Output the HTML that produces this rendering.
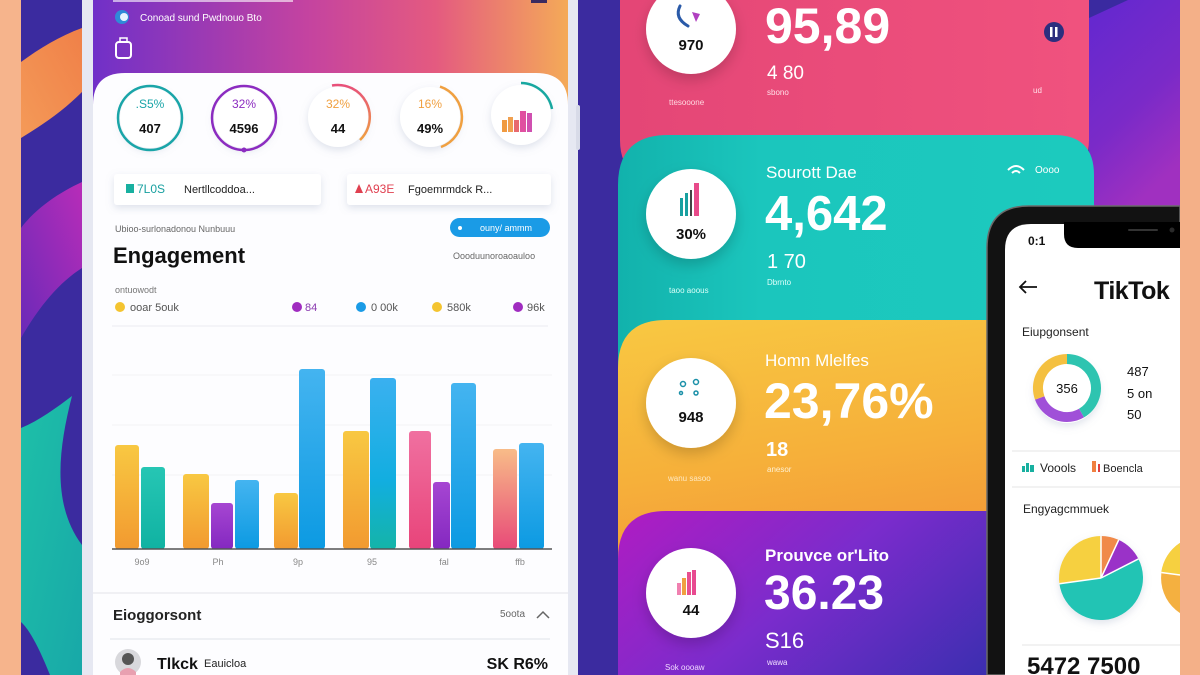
<!DOCTYPE html>
<html><head><meta charset="utf-8">
<style>
html,body{margin:0;padding:0;width:1200px;height:675px;overflow:hidden;background:#3b2b9f;}
svg{display:block;font-family:"Liberation Sans",sans-serif;}
</style></head>
<body>
<svg width="1200" height="675" viewBox="0 0 1200 675" xmlns="http://www.w3.org/2000/svg">
<defs>
 <linearGradient id="hdr" x1="0" y1="0" x2="1" y2="0">
  <stop offset="0" stop-color="#7030c8"/><stop offset="0.45" stop-color="#c443a0"/>
  <stop offset="0.72" stop-color="#e45a80"/><stop offset="1" stop-color="#f4aa58"/>
 </linearGradient>
 <linearGradient id="gY" x1="0" y1="0" x2="0" y2="1"><stop offset="0" stop-color="#f8c842"/><stop offset="1" stop-color="#f29a30"/></linearGradient>
 <linearGradient id="gT" x1="0" y1="0" x2="0" y2="1"><stop offset="0" stop-color="#26c6b4"/><stop offset="1" stop-color="#10b2a2"/></linearGradient>
 <linearGradient id="gP" x1="0" y1="0" x2="0" y2="1"><stop offset="0" stop-color="#a646d2"/><stop offset="1" stop-color="#8428c0"/></linearGradient>
 <linearGradient id="gB" x1="0" y1="0" x2="0" y2="1"><stop offset="0" stop-color="#44b4f0"/><stop offset="1" stop-color="#0c9ae2"/></linearGradient>
 <linearGradient id="gBT" x1="0" y1="0" x2="0" y2="1"><stop offset="0" stop-color="#3ab0f0"/><stop offset="0.6" stop-color="#12aee0"/><stop offset="1" stop-color="#14b4a8"/></linearGradient>
 <linearGradient id="gK" x1="0" y1="0" x2="0" y2="1"><stop offset="0" stop-color="#f070a0"/><stop offset="1" stop-color="#e8447a"/></linearGradient>
 <linearGradient id="gPe" x1="0" y1="0" x2="0" y2="1"><stop offset="0" stop-color="#f8bc88"/><stop offset="1" stop-color="#e84a78"/></linearGradient>
 <linearGradient id="cPink" x1="0" y1="0" x2="1" y2="0"><stop offset="0" stop-color="#e44676"/><stop offset="1" stop-color="#f0527e"/></linearGradient>
 <linearGradient id="cTeal" x1="0" y1="0" x2="1" y2="0"><stop offset="0" stop-color="#12b2ac"/><stop offset="0.3" stop-color="#1bc6bd"/><stop offset="1" stop-color="#1ccabe"/></linearGradient>
 <linearGradient id="cYel" x1="0" y1="0" x2="0.3" y2="1"><stop offset="0" stop-color="#f8c842"/><stop offset="0.6" stop-color="#f6b03a"/><stop offset="1" stop-color="#f39a38"/></linearGradient>
 <linearGradient id="cPur" x1="0" y1="0" x2="1" y2="0.4"><stop offset="0" stop-color="#b01cc2"/><stop offset="0.5" stop-color="#7a2ccc"/><stop offset="1" stop-color="#3c2eb0"/></linearGradient>
 <linearGradient id="bgR" x1="0" y1="0" x2="0.4" y2="1"><stop offset="0" stop-color="#6228d0"/><stop offset="0.6" stop-color="#7a2ac8"/><stop offset="1" stop-color="#a030c0"/></linearGradient>
 <linearGradient id="mag" x1="1" y1="0" x2="0" y2="1"><stop offset="0" stop-color="#b82cb8"/><stop offset="1" stop-color="#6a2ab8"/></linearGradient>
 <linearGradient id="org" x1="1" y1="0" x2="0" y2="1"><stop offset="0" stop-color="#f08048"/><stop offset="1" stop-color="#f49a58"/></linearGradient>
 <linearGradient id="tl" x1="0" y1="0" x2="1" y2="1"><stop offset="0" stop-color="#1ec0a8"/><stop offset="1" stop-color="#18a8a8"/></linearGradient>
 <linearGradient id="arcPO" x1="0" y1="0" x2="0" y2="1"><stop offset="0" stop-color="#e8507a"/><stop offset="1" stop-color="#f0a040"/></linearGradient>
 <filter id="sh" x="-30%" y="-30%" width="160%" height="160%"><feDropShadow dx="0" dy="3" stdDeviation="4" flood-color="#8090b0" flood-opacity="0.25"/></filter>
 <filter id="sh2" x="-30%" y="-30%" width="160%" height="160%"><feDropShadow dx="0" dy="6" stdDeviation="7" flood-color="#000" flood-opacity="0.18"/></filter>
</defs>

<!-- background -->
<rect x="0" y="0" width="1200" height="675" fill="#3b2b9f"/>
<path d="M21,62 C40,48 60,36 82,28 L82,92 C64,110 44,124 21,138 Z" fill="url(#org)"/>
<path d="M82,182 C60,192 36,208 21,228 L21,338 C40,305 60,282 82,268 Z" fill="url(#mag)"/>
<path d="M21,428 C40,420 56,408 72,396 C58,450 52,505 82,545 L82,675 L50,675 C40,650 30,630 21,622 Z" fill="url(#tl)"/>
<rect x="0" y="0" width="21" height="675" fill="#f6b48c"/>

<!-- right bg -->
<rect x="1089" y="0" width="91" height="215" fill="url(#bgR)"/>
<polygon points="1089,0 1128,0 1089,18" fill="#3a2aa0"/>

<!-- LEFT PHONE -->
<rect x="82" y="0" width="496" height="675" fill="#e6e8f2"/>
<rect x="576" y="105" width="4" height="45" rx="2" fill="#d8dbe8"/>
<rect x="93" y="0" width="475" height="675" fill="url(#hdr)"/>
<rect x="113" y="0" width="180" height="2" fill="#ffffff" opacity="0.6"/>
<rect x="531" y="0" width="16" height="3" fill="#3a2a60"/>
<circle cx="122" cy="17" r="7" fill="#2f8ad8"/><circle cx="124" cy="17" r="4" fill="#e6f4ff"/>
<text x="140" y="21" font-size="10" fill="#ffffff">Conoad sund Pwdnouo Bto</text>
<rect x="116" y="42" width="15" height="16" rx="3" fill="none" stroke="#fff" stroke-width="2"/>
<rect x="120" y="38" width="7" height="4" fill="none" stroke="#fff" stroke-width="1.5"/>

<path d="M93,105 Q93,73 125,73 L536,73 Q568,73 568,105 L568,675 L93,675 Z" fill="#fdfdff"/>

<!-- circles row -->
<g filter="url(#sh)">
<circle cx="150" cy="118" r="30" fill="#fff"/>
<circle cx="244" cy="118" r="30" fill="#fff"/>
<circle cx="338" cy="117" r="30" fill="#fff"/>
<circle cx="430" cy="117" r="30" fill="#fff"/>
<circle cx="521" cy="115" r="30" fill="#fff"/>
</g>
<circle cx="150" cy="118" r="32" fill="none" stroke="#1aa5a8" stroke-width="2.5"/>
<circle cx="244" cy="118" r="32" fill="none" stroke="#8c2cc0" stroke-width="2.5"/>
<circle cx="244" cy="150" r="2.5" fill="#8c2cc0"/>
<path d="M332,85.5 A32,32 0 0 1 360,140" fill="none" stroke="url(#arcPO)" stroke-width="2.5"/>
<path d="M440,86.6 A32,32 0 0 1 441,147" fill="none" stroke="#f0a040" stroke-width="2.5"/>
<path d="M521,83 A32,32 0 0 1 552,109" fill="none" stroke="#18a8a0" stroke-width="2.5"/>
<text x="150" y="108" font-size="12" fill="#1aa5a8" text-anchor="middle">.S5%</text>
<text x="150" y="133" font-size="13" font-weight="bold" fill="#111" text-anchor="middle">407</text>
<text x="244" y="108" font-size="12" fill="#8c2cc0" text-anchor="middle">32%</text>
<text x="244" y="133" font-size="13" font-weight="bold" fill="#111" text-anchor="middle">4596</text>
<text x="338" y="108" font-size="12" fill="#f0a040" text-anchor="middle">32%</text>
<text x="338" y="133" font-size="13" font-weight="bold" fill="#111" text-anchor="middle">44</text>
<text x="430" y="108" font-size="12" fill="#f0a040" text-anchor="middle">16%</text>
<text x="430" y="133" font-size="13" font-weight="bold" fill="#111" text-anchor="middle">49%</text>
<rect x="502" y="120" width="5" height="12" fill="#f09a40"/>
<rect x="508" y="117" width="5" height="15" fill="#f0a050"/>
<rect x="514" y="120" width="5" height="12" fill="#e86a70"/>
<rect x="520" y="111" width="6" height="21" fill="#e050a0"/>
<rect x="527" y="113" width="5" height="19" fill="#d050b0"/>

<!-- boxes -->
<g filter="url(#sh)">
<rect x="114" y="174" width="207" height="31" rx="3" fill="#fff"/>
<rect x="347" y="174" width="204" height="31" rx="3" fill="#fff"/>
</g>
<rect x="126" y="184" width="8" height="9" fill="#18b0a0"/>
<text x="137" y="193" font-size="12" fill="#18a0a0">7L0S</text>
<text x="184" y="193" font-size="11" fill="#222">Nertllcoddoa...</text>
<polygon points="355,193 359,184 363,193" fill="#e04050"/>
<text x="365" y="193" font-size="12" fill="#e04050">A93E</text>
<text x="408" y="193" font-size="11" fill="#222">Fgoemrmdck R...</text>

<text x="115" y="232" font-size="9" fill="#666">Ubioo-surlonadonou Nunbuuu</text>
<rect x="450" y="218" width="100" height="19" rx="9.5" fill="#1a9be6"/>
<circle cx="460" cy="228" r="2" fill="#fff"/>
<text x="480" y="231" font-size="9" fill="#fff">ouny/ ammm</text>
<text x="113" y="263" font-size="22" font-weight="bold" fill="#111">Engagement</text>
<text x="453" y="259" font-size="9" fill="#666">Oooduunoroaoauloo</text>
<text x="115" y="293" font-size="9" fill="#777">ontuowodt</text>

<circle cx="120" cy="307" r="5" fill="#f4c430"/><text x="130" y="311" font-size="11" fill="#555">ooar 5ouk</text>
<circle cx="297" cy="307" r="5" fill="#a02cc0"/><text x="305" y="311" font-size="11" fill="#8a3ab0">84</text>
<circle cx="361" cy="307" r="5" fill="#1a9be6"/><text x="371" y="311" font-size="11" fill="#555">0 00k</text>
<circle cx="437" cy="307" r="5" fill="#f4c430"/><text x="447" y="311" font-size="11" fill="#555">580k</text>
<circle cx="518" cy="307" r="5" fill="#a02cc0"/><text x="527" y="311" font-size="11" fill="#555">96k</text>
<line x1="112" y1="326" x2="548" y2="326" stroke="#ececf0" stroke-width="1"/>
<line x1="112" y1="375" x2="552" y2="375" stroke="#f2f2f5" stroke-width="1"/>
<line x1="112" y1="425" x2="552" y2="425" stroke="#f2f2f5" stroke-width="1"/>
<line x1="112" y1="475" x2="552" y2="475" stroke="#f2f2f5" stroke-width="1"/>

<!-- bars -->
<rect x="115" y="445" width="24" height="104" rx="3" fill="url(#gY)"/>
<rect x="141" y="467" width="24" height="82" rx="3" fill="url(#gT)"/>
<rect x="183" y="474" width="26" height="75" rx="3" fill="url(#gY)"/>
<rect x="211" y="503" width="22" height="46" rx="3" fill="url(#gP)"/>
<rect x="235" y="480" width="24" height="69" rx="3" fill="url(#gB)"/>
<rect x="274" y="493" width="24" height="56" rx="3" fill="url(#gY)"/>
<rect x="299" y="369" width="26" height="180" rx="3" fill="url(#gB)"/>
<rect x="343" y="431" width="26" height="118" rx="3" fill="url(#gY)"/>
<rect x="370" y="378" width="26" height="171" rx="3" fill="url(#gBT)"/>
<rect x="409" y="431" width="22" height="118" rx="3" fill="url(#gK)"/>
<rect x="433" y="482" width="17" height="67" rx="3" fill="url(#gP)"/>
<rect x="451" y="383" width="25" height="166" rx="3" fill="url(#gB)"/>
<rect x="493" y="449" width="24" height="100" rx="3" fill="url(#gPe)"/>
<rect x="519" y="443" width="25" height="106" rx="3" fill="url(#gB)"/>
<line x1="112" y1="549" x2="552" y2="549" stroke="#555" stroke-width="1.5"/>
<g font-size="9" fill="#888" text-anchor="middle">
<text x="142" y="565">9o9</text><text x="218" y="565">Ph</text><text x="298" y="565">9p</text>
<text x="372" y="565">95</text><text x="444" y="565">fal</text><text x="520" y="565">ffb</text>
</g>

<line x1="93" y1="593" x2="568" y2="593" stroke="#ebebf0" stroke-width="1.5"/>
<text x="113" y="620" font-size="15" font-weight="bold" fill="#222">Eioggorsont</text>
<text x="500" y="617" font-size="10" fill="#666">5oota</text>
<polyline points="537,618 543,612 549,618" fill="none" stroke="#666" stroke-width="1.5"/>
<line x1="110" y1="639" x2="550" y2="639" stroke="#eef0f4" stroke-width="2"/>
<circle cx="128" cy="662" r="13" fill="#d8d8dc"/>
<circle cx="128" cy="659" r="6" fill="#555"/>
<path d="M120,672 Q128,664 136,672 L136,675 L120,675 Z" fill="#e8a0b0"/>
<text x="157" y="669" font-size="16" font-weight="bold" fill="#111">Tlkck</text>
<text x="204" y="667" font-size="11" fill="#222">Eauicloa</text>
<text x="548" y="669" font-size="16" font-weight="bold" fill="#111" text-anchor="end">SK R6%</text>

<!-- CARDS -->
<path d="M620,0 L1089,0 L1089,140 Q1089,180 1049,180 L660,180 Q620,180 620,140 Z" fill="url(#cPink)"/>
<path d="M618,185 Q618,135 668,135 L1054,135 Q1094,135 1094,175 L1094,380 L618,380 Z" fill="url(#cTeal)"/>
<path d="M618,368 Q618,320 666,320 L1100,320 L1100,570 L618,570 Z" fill="url(#cYel)"/>
<path d="M618,559 Q618,511 666,511 L1100,511 L1100,675 L618,675 Z" fill="url(#cPur)"/>

<g filter="url(#sh2)">
<circle cx="691" cy="29" r="45" fill="#fff"/>
<circle cx="691" cy="214" r="45" fill="#fff"/>
<circle cx="691" cy="403" r="45" fill="#fff"/>
<circle cx="691" cy="593" r="45" fill="#fff"/>
</g>
<!-- pink card content -->
<path d="M680,6 Q674,18 688,26" fill="none" stroke="#2a5aa8" stroke-width="3" stroke-linecap="round"/>
<path d="M692,12 L700,14 L696,22 Z" fill="#b040c0"/>
<text x="691" y="50" font-size="15" font-weight="bold" fill="#111" text-anchor="middle">970</text>
<text x="669" y="105" font-size="8" fill="#ffd8e0">ttesooone</text>
<text x="765" y="43" font-size="50" font-weight="bold" fill="#fff">95,89</text>
<text x="767" y="79" font-size="19" fill="#fff">4 80</text>
<text x="767" y="95" font-size="8" fill="#ffe0e8">sbono</text>
<text x="1033" y="93" font-size="8" fill="#ffe0e8">ud</text>
<circle cx="1054" cy="32" r="10" fill="#2c2e7e"/>
<rect x="1050" y="27" width="2.5" height="10" fill="#fff"/><rect x="1055" y="27" width="2.5" height="10" fill="#fff"/>

<!-- teal card content -->
<rect x="680" y="198" width="3" height="18" fill="#18a0a0"/>
<rect x="685" y="193" width="3" height="23" fill="#18a0a0"/>
<rect x="690" y="190" width="2" height="26" fill="#444"/>
<rect x="694" y="183" width="5" height="33" fill="#e84a8a"/>
<text x="691" y="239" font-size="15" font-weight="bold" fill="#111" text-anchor="middle">30%</text>
<text x="669" y="293" font-size="8" fill="#d8fff8">taoo aoous</text>
<text x="766" y="178" font-size="17" fill="#fff">Sourott Dae</text>
<text x="765" y="230" font-size="49" font-weight="bold" fill="#fff">4,642</text>
<text x="767" y="268" font-size="20" fill="#fff">1 70</text>
<text x="767" y="285" font-size="8" fill="#e0fffa">Dbrnto</text>
<path d="M1008,170 Q1016,162 1024,170" fill="none" stroke="#fff" stroke-width="2"/>
<path d="M1012,173 Q1016,169 1020,173" fill="none" stroke="#fff" stroke-width="2"/>
<text x="1035" y="173" font-size="10" fill="#fff">Oooo</text>

<!-- yellow card content -->
<g fill="none" stroke="#1a90a8" stroke-width="1.5">
<circle cx="683" cy="384" r="2.5"/><circle cx="696" cy="382" r="2.5"/>
<circle cx="681" cy="393" r="1.5"/><circle cx="696" cy="393" r="2"/>
</g>
<text x="691" y="422" font-size="15" font-weight="bold" fill="#111" text-anchor="middle">948</text>
<text x="668" y="481" font-size="8" fill="#ffe8c0">wanu sasoo</text>
<text x="765" y="366" font-size="17" fill="#fff">Homn Mlelfes</text>
<text x="764" y="418" font-size="50" font-weight="bold" fill="#fff">23,76%</text>
<text x="766" y="456" font-size="20" font-weight="bold" fill="#fff">18</text>
<text x="767" y="472" font-size="8" fill="#fff0d0">anesor</text>

<!-- purple card content -->
<rect x="677" y="583" width="4" height="12" fill="#f080b0"/>
<rect x="682" y="578" width="4" height="17" fill="#f0a040"/>
<rect x="687" y="572" width="4" height="23" fill="#e85090"/>
<rect x="692" y="570" width="4" height="25" fill="#e84a90"/>
<text x="691" y="615" font-size="15" font-weight="bold" fill="#111" text-anchor="middle">44</text>
<text x="665" y="670" font-size="8" fill="#f0d8ff">Sok oooaw</text>
<text x="765" y="561" font-size="17" font-weight="bold" fill="#fff">Prouvce or'Lito</text>
<text x="764" y="609" font-size="48" font-weight="bold" fill="#fff">36.23</text>
<text x="765" y="648" font-size="22" fill="#fff">S16</text>
<text x="767" y="665" font-size="8" fill="#f0e0ff">wawa</text>

<!-- RIGHT PHONE -->
<path d="M987,248 Q987,206 1029,206 L1180,206 L1180,675 L987,675 Z" fill="#121212" stroke="#6a6a6a" stroke-width="1.5"/>
<path d="M1005,250 Q1005,224 1031,224 L1180,224 L1180,675 L1005,675 Z" fill="#ffffff"/>
<path d="M1064,222 L1180,222 L1180,248 L1078,248 Q1064,248 1064,234 Z" fill="#000"/>
<rect x="1128" y="229" width="30" height="2" rx="1" fill="#333"/>
<circle cx="1172" cy="230" r="2.5" fill="#2a2a2a"/>
<text x="1028" y="245" font-size="12" font-weight="bold" fill="#111">0:1</text>
<line x1="1020" y1="287" x2="1037" y2="287" stroke="#111" stroke-width="1.8"/>
<polyline points="1026,281 1020,287 1026,293" fill="none" stroke="#111" stroke-width="1.8"/>
<text x="1094" y="299" font-size="25" font-weight="bold" fill="#111" letter-spacing="-0.5">TikTok</text>
<text x="1022" y="336" font-size="12" fill="#222">Eiupgonsent</text>
<circle cx="1067" cy="390" r="33" fill="#fff" filter="url(#sh)"/>
<path d="M1067,359 A29,29 0 0 1 1081.5,413.1" fill="none" stroke="#2ec4b0" stroke-width="10"/>
<path d="M1081.5,413.1 A29,29 0 0 1 1039.7,397.9" fill="none" stroke="#a050d8" stroke-width="10"/>
<path d="M1039.7,397.9 A29,29 0 0 1 1067,359" fill="none" stroke="#f4c040" stroke-width="10"/>
<text x="1067" y="393" font-size="13" fill="#111" text-anchor="middle">356</text>
<text x="1127" y="376" font-size="13" fill="#111">487</text>
<text x="1127" y="398" font-size="13" fill="#111">5 on</text>
<text x="1127" y="419" font-size="13" fill="#111">50</text>
<line x1="1012" y1="451" x2="1180" y2="451" stroke="#eee" stroke-width="1.5"/>
<rect x="1022" y="466" width="3" height="6" fill="#18b0a0"/><rect x="1026" y="463" width="3" height="9" fill="#18b0a0"/><rect x="1030" y="465" width="4" height="7" fill="#18b0a0"/>
<text x="1040" y="472" font-size="12" fill="#222">Voools</text>
<rect x="1092" y="461" width="4" height="11" fill="#f08040"/><rect x="1098" y="464" width="2" height="8" fill="#e04040"/>
<text x="1103" y="472" font-size="11" fill="#222">Boencla</text>
<line x1="1012" y1="487" x2="1180" y2="487" stroke="#eee" stroke-width="1.5"/>
<text x="1023" y="513" font-size="12" fill="#222">Engyagcmmuek</text>
<g filter="url(#sh)">
<path d="M1101,578 L1101,536 A42,42 0 0 1 1118.7,539.9 Z" fill="#f08a48"/>
<path d="M1101,578 L1118.7,539.9 A42,42 0 0 1 1138.4,558.9 Z" fill="#9a30c8"/>
<path d="M1101,578 L1138.4,558.9 A42,42 0 1 1 1059.4,583.8 Z" fill="#22c4b4"/>
<path d="M1101,578 L1059.4,583.8 A42,42 0 0 1 1101,536 Z" fill="#f6d040"/>
</g>
<g stroke="#fff" stroke-width="1.5">
<line x1="1101" y1="578" x2="1101" y2="536"/><line x1="1101" y1="578" x2="1118.7" y2="539.9"/>
<line x1="1101" y1="578" x2="1138.4" y2="558.9"/><line x1="1101" y1="578" x2="1059.4" y2="583.8"/>
</g>
<path d="M1180,542.9 A42,42 0 0 0 1180,613.1 Z" fill="#f4b040"/>
<path d="M1180,542.9 A42,42 0 0 0 1161.2,572.5 L1180,575 Z" fill="#f6d040"/>
<line x1="1161.2" y1="572.5" x2="1180" y2="575" stroke="#fff" stroke-width="1.5"/>
<line x1="1022" y1="645" x2="1180" y2="645" stroke="#eee" stroke-width="1.5"/>
<text x="1027" y="674" font-size="24" font-weight="bold" fill="#111">5472 7500</text>

<!-- right peach strip -->
<rect x="1180" y="0" width="20" height="675" fill="#f4b088"/>
</svg>
</body></html>
